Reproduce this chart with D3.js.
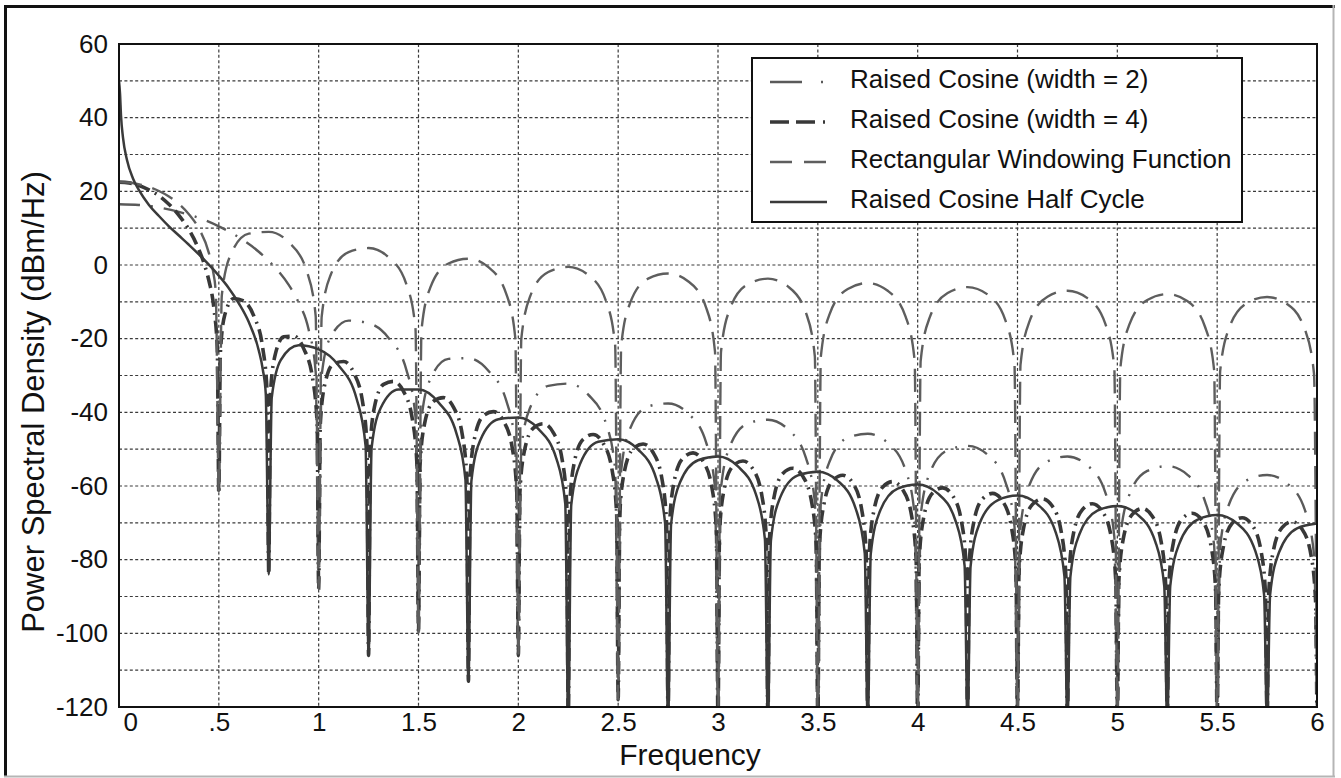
<!DOCTYPE html>
<html>
<head>
<meta charset="utf-8">
<script src="https://cdn.jsdelivr.net/npm/d3@7"></script>
<style>
  body { margin: 0; background: #fff; }
  svg { display: block; }
  text { font-family: "Liberation Sans", Arial, Helvetica, sans-serif; fill: #111; }
</style>
</head>
<body>
<svg id="chart" width="1341" height="778"></svg>
<script>
// ---------- data ----------
const xTickValues = [0, 0.5, 1, 1.5, 2, 2.5, 3, 3.5, 4, 4.5, 5, 5.5, 6];
const xTickLabels = ["0", ".5", "1", "1.5", "2", "2.5", "3", "3.5", "4", "4.5", "5", "5.5", "6"];
const yTickValues = [60, 40, 20, 0, -20, -40, -60, -80, -100, -120];
const yTickLabels = ["60", "40", "20", "0", "-20", "-40", "-60", "-80", "-100", "-120"];
const yGridValues = [50, 40, 30, 20, 10, 0, -10, -20, -30, -40, -50, -60, -70, -80, -90, -100, -110];
const xGridValues = [0.5, 1, 1.5, 2, 2.5, 3, 3.5, 4, 4.5, 5, 5.5];
const seriesNames = ["Raised Cosine (width = 2)", "Raised Cosine (width = 4)", "Rectangular Windowing Function", "Raised Cosine Half Cycle"];
const xTitle = "Frequency";
const yTitle = "Power Spectral Density (dBm/Hz)";

// [frequency, dBm/Hz]
const rcWidth2 = [
  [0,16.5],[0.1,16.3],[0.2,15.6],[0.3,14.4],[0.4,12.8],[0.5,10.5],[0.6,7.5],[0.7,3.6],[0.75,1.1],[0.8,-1.8],[0.85,-5.4],[0.9,-10.2],[0.95,-17.6],[0.985,-29.0],
  [1.0,-88],
  [1.015,-30.0],[1.06,-19.5],[1.15,-15.1],[1.25,-15.8],[1.35,-19.8],[1.44,-28.6],[1.485,-41.3],
  [1.5,-100],
  [1.515,-41.8],[1.56,-30.9],[1.65,-25.5],[1.75,-25.3],[1.85,-28.7],[1.94,-36.9],[1.985,-49.3],
  [2.0,-106],
  [2.015,-49.9],[2.06,-38.6],[2.15,-32.8],[2.25,-32.2],[2.35,-35.2],[2.44,-43.2],[2.485,-55.5],
  [2.5,-118],
  [2.515,-55.8],[2.56,-44.4],[2.65,-38.4],[2.75,-37.6],[2.85,-40.3],[2.94,-48.1],[2.985,-60.4],
  [3.0,-125],
  [3.015,-60.6],[3.06,-49.2],[3.15,-43.0],[3.25,-42.0],[3.35,-44.6],[3.44,-52.3],[3.485,-64.4],
  [3.5,-125],
  [3.515,-64.6],[3.56,-53.2],[3.65,-46.9],[3.75,-45.8],[3.85,-48.3],[3.94,-55.8],[3.985,-68.0],
  [4.0,-125],
  [4.015,-68.1],[4.06,-56.6],[4.15,-50.3],[4.25,-49.1],[4.35,-51.5],[4.44,-59.0],[4.485,-71.0],
  [4.5,-125],
  [4.515,-71.2],[4.56,-59.7],[4.65,-53.3],[4.75,-52.0],[4.85,-54.4],[4.94,-61.8],[4.985,-73.8],
  [5.0,-125],
  [5.015,-74.0],[5.06,-62.4],[5.15,-55.9],[5.25,-54.6],[5.35,-56.9],[5.44,-64.3],[5.485,-76.3],
  [5.5,-125],
  [5.515,-76.5],[5.56,-64.9],[5.65,-58.4],[5.75,-57.0],[5.85,-59.3],[5.94,-66.6],[5.985,-78.6],
  [6.0,-125]
];

const rcWidth4 = [
  [0,22.5],[0.05,22.3],[0.1,21.6],[0.15,20.4],[0.2,18.8],[0.25,16.5],[0.3,13.5],[0.35,9.6],[0.4,4.2],[0.425,0.6],[0.45,-4.2],[0.475,-11.6],[0.4925,-23.0],
  [0.5,-62],
  [0.5075,-24.0],[0.53,-13.5],[0.575,-9.1],[0.625,-9.8],[0.675,-13.8],[0.72,-22.6],[0.7425,-35.3],
  [0.75,-84],
  [0.7575,-35.8],[0.78,-24.9],[0.825,-19.5],[0.875,-19.3],[0.925,-22.7],[0.97,-30.9],[0.9925,-43.3],
  [1.0,-88],
  [1.0075,-43.9],[1.03,-32.6],[1.075,-26.8],[1.125,-26.2],[1.175,-29.2],[1.22,-37.2],[1.2425,-49.5],
  [1.25,-106],
  [1.2575,-49.8],[1.28,-38.4],[1.325,-32.4],[1.375,-31.6],[1.425,-34.3],[1.47,-42.1],[1.4925,-54.4],
  [1.5,-100],
  [1.5075,-54.6],[1.53,-43.2],[1.575,-37.0],[1.625,-36.0],[1.675,-38.6],[1.72,-46.3],[1.7425,-58.4],
  [1.75,-113],
  [1.7575,-58.6],[1.78,-47.2],[1.825,-40.9],[1.875,-39.8],[1.925,-42.3],[1.97,-49.8],[1.9925,-62.0],
  [2.0,-106],
  [2.0075,-62.1],[2.03,-50.6],[2.075,-44.3],[2.125,-43.1],[2.175,-45.5],[2.22,-53.0],[2.2425,-65.0],
  [2.25,-125],
  [2.2575,-65.2],[2.28,-53.7],[2.325,-47.3],[2.375,-46.0],[2.425,-48.4],[2.47,-55.8],[2.4925,-67.8],
  [2.5,-118],
  [2.5075,-68.0],[2.53,-56.4],[2.575,-49.9],[2.625,-48.6],[2.675,-50.9],[2.72,-58.3],[2.7425,-70.3],
  [2.75,-125],
  [2.7575,-70.5],[2.78,-58.9],[2.825,-52.4],[2.875,-51.0],[2.925,-53.3],[2.97,-60.6],[2.9925,-72.6],
  [3.0,-125],
  [3.0075,-72.7],[3.03,-61.1],[3.075,-54.6],[3.125,-53.2],[3.175,-55.4],[3.22,-62.7],[3.2425,-74.7],
  [3.25,-125],
  [3.2575,-74.8],[3.28,-63.2],[3.325,-56.6],[3.375,-55.2],[3.425,-57.4],[3.47,-64.7],[3.4925,-76.6],
  [3.5,-125],
  [3.5075,-76.7],[3.53,-65.1],[3.575,-58.5],[3.625,-57.1],[3.675,-59.2],[3.72,-66.5],[3.7425,-78.4],
  [3.75,-125],
  [3.7575,-78.5],[3.78,-66.9],[3.825,-60.3],[3.875,-58.8],[3.925,-61.0],[3.97,-68.2],[3.9925,-80.1],
  [4.0,-125],
  [4.0075,-80.2],[4.03,-68.6],[4.075,-61.9],[4.125,-60.5],[4.175,-62.6],[4.22,-69.8],[4.2425,-81.7],
  [4.25,-125],
  [4.2575,-81.8],[4.28,-70.1],[4.325,-63.5],[4.375,-62.0],[4.425,-64.1],[4.47,-71.3],[4.4925,-83.2],
  [4.5,-125],
  [4.5075,-83.3],[4.53,-71.6],[4.575,-65.0],[4.625,-63.5],[4.675,-65.5],[4.72,-72.7],[4.7425,-84.6],
  [4.75,-125],
  [4.7575,-84.7],[4.78,-73.0],[4.825,-66.4],[4.875,-64.8],[4.925,-66.9],[4.97,-74.0],[4.9925,-86.0],
  [5.0,-125],
  [5.0075,-86.0],[5.03,-74.3],[5.075,-67.7],[5.125,-66.1],[5.175,-68.2],[5.22,-75.3],[5.2425,-87.2],
  [5.25,-125],
  [5.2575,-87.3],[5.28,-75.6],[5.325,-68.9],[5.375,-67.4],[5.425,-69.4],[5.47,-76.5],[5.4925,-88.4],
  [5.5,-125],
  [5.5075,-88.5],[5.53,-76.8],[5.575,-70.1],[5.625,-68.6],[5.675,-70.6],[5.72,-77.7],[5.7425,-89.6],
  [5.75,-125],
  [5.7575,-89.7],[5.78,-78.0],[5.825,-71.3],[5.875,-69.7],[5.925,-71.7],[5.97,-78.8],[5.9925,-90.7],
  [6.0,-125]
];

const rectWindow = [
  [0,22.5],[0.05,22.4],[0.1,21.9],[0.15,21.2],[0.2,20.1],[0.25,18.6],[0.3,16.6],[0.35,13.8],[0.4,9.9],[0.45,3.3],[0.47,-1.4],[0.485,-7.7],
  [0.5,-62],
  [0.515,-8.2],[0.56,2.9],[0.65,8.5],[0.75,9.0],[0.85,6.2],[0.94,-1.6],[0.985,-13.8],
  [1.0,-88],
  [1.015,-14.1],[1.06,-2.7],[1.15,3.5],[1.25,4.6],[1.35,2.1],[1.44,-5.3],[1.485,-17.4],
  [1.5,-100],
  [1.515,-17.6],[1.56,-6.0],[1.65,0.4],[1.75,1.7],[1.85,-0.6],[1.94,-7.9],[1.985,-19.9],
  [2.0,-106],
  [2.015,-20.0],[2.06,-8.4],[2.15,-1.9],[2.25,-0.5],[2.35,-2.7],[2.44,-9.9],[2.485,-21.9],
  [2.5,-118],
  [2.515,-22.0],[2.56,-10.3],[2.65,-3.7],[2.75,-2.3],[2.85,-4.4],[2.94,-11.5],[2.985,-23.5],
  [3.0,-125],
  [3.015,-23.6],[3.06,-11.9],[3.15,-5.2],[3.25,-3.7],[3.35,-5.8],[3.44,-12.9],[3.485,-24.8],
  [3.5,-125],
  [3.515,-24.9],[3.56,-13.2],[3.65,-6.5],[3.75,-4.9],[3.85,-7.0],[3.94,-14.1],[3.985,-26.0],
  [4.0,-125],
  [4.015,-26.0],[4.06,-14.3],[4.15,-7.6],[4.25,-6.0],[4.35,-8.0],[4.44,-15.1],[4.485,-27.0],
  [4.5,-125],
  [4.515,-27.1],[4.56,-15.3],[4.65,-8.6],[4.75,-7.0],[4.85,-9.0],[4.94,-16.0],[4.985,-27.9],
  [5.0,-125],
  [5.015,-28.0],[5.06,-16.2],[5.15,-9.5],[5.25,-7.9],[5.35,-9.8],[5.44,-16.9],[5.485,-28.7],
  [5.5,-125],
  [5.515,-28.8],[5.56,-17.1],[5.65,-10.3],[5.75,-8.7],[5.85,-10.6],[5.94,-17.6],[5.985,-29.5],
  [6.0,-125]
];

const rcHalfCycle = [
  [0,50],[0.005,46.6],[0.01,40.6],[0.02,34.6],[0.04,28.5],[0.07,23.5],[0.1,20.3],[0.15,16.3],[0.2,13.3],[0.25,10.5],[0.3,8.0],[0.35,5.5],[0.4,2.9],[0.45,0.1],[0.5,-2.9],[0.55,-6.3],[0.6,-10.4],[0.65,-15.5],[0.7,-23.2],[0.72,-28.3],[0.735,-34.9],
  [0.75,-84],
  [0.765,-36.0],[0.81,-25.8],[0.9,-21.8],[1.0,-22.9],[1.1,-27.3],[1.19,-36.3],[1.235,-49.1],
  [1.25,-106],
  [1.265,-49.8],[1.31,-38.9],[1.4,-33.8],[1.5,-33.8],[1.6,-37.3],[1.69,-45.7],[1.735,-58.2],
  [1.75,-113],
  [1.765,-58.6],[1.81,-47.5],[1.9,-41.9],[2.0,-41.4],[2.1,-44.5],[2.19,-52.5],[2.235,-64.8],
  [2.25,-125],
  [2.265,-65.2],[2.31,-53.9],[2.4,-48.0],[2.5,-47.3],[2.6,-50.1],[2.69,-57.9],[2.735,-70.1],
  [2.75,-125],
  [2.765,-70.4],[2.81,-59.0],[2.9,-53.0],[3.0,-52.0],[3.1,-54.7],[3.19,-62.3],[3.235,-74.5],
  [3.25,-125],
  [3.265,-74.8],[3.31,-63.3],[3.4,-57.1],[3.5,-56.1],[3.6,-58.6],[3.69,-66.2],[3.735,-78.3],
  [3.75,-125],
  [3.765,-78.5],[3.81,-67.0],[3.9,-60.7],[4.0,-59.6],[4.1,-62.0],[4.19,-69.5],[4.235,-81.6],
  [4.25,-125],
  [4.265,-81.8],[4.31,-70.2],[4.4,-63.9],[4.5,-62.6],[4.6,-65.0],[4.69,-72.4],[4.735,-84.5],
  [4.75,-125],
  [4.765,-84.6],[4.81,-73.1],[4.9,-66.7],[5.0,-65.4],[5.1,-67.7],[5.19,-75.1],[5.235,-87.1],
  [5.25,-125],
  [5.265,-87.2],[5.31,-75.7],[5.4,-69.2],[5.5,-67.9],[5.6,-70.2],[5.69,-77.5],[5.735,-89.5],
  [5.75,-125],
  [5.765,-89.6],[5.81,-78.0],[5.9,-71.5],[6.0,-70.2]
];

// ---------- styles & layout ----------
const seriesData = [rcWidth2, rcWidth4, rectWindow, rcHalfCycle];
const seriesStyles = [
  { stroke: "#5a5a5a", width: 2.4, dash: "21 11 2 11", legendDash: "32 19 2 40" },
  { stroke: "#383838", width: 3.6, dash: "13 6 13 6 2 6", legendDash: "19 7 19 8 2 40" },
  { stroke: "#5e5e5e", width: 2.4, dash: "23 11", legendDash: "22 12" },
  { stroke: "#3a3a3a", width: 2.5, dash: null, legendDash: null }
];

const W = 1341, H = 778;
const plot = { left: 119, top: 44, right: 1317, bottom: 707 };

const svg = d3.select("#chart");
svg.append("rect").attr("width", W).attr("height", H).attr("fill", "#fff");

// outer frame
svg.append("line").attr("x1", 5.5).attr("x2", 5.5).attr("y1", 5).attr("y2", 777).attr("stroke", "#111").attr("stroke-width", 3);
svg.append("line").attr("x1", 4).attr("x2", 1335).attr("y1", 6.5).attr("y2", 6.5).attr("stroke", "#111").attr("stroke-width", 3);
svg.append("line").attr("x1", 1333.5).attr("x2", 1333.5).attr("y1", 5).attr("y2", 777).attr("stroke", "#b5b5b5").attr("stroke-width", 2);
svg.append("line").attr("x1", 4).attr("x2", 1335).attr("y1", 776.5).attr("y2", 776.5).attr("stroke", "#b5b5b5").attr("stroke-width", 2);

const x = d3.scaleLinear().domain([0, 6]).range([plot.left, plot.right]);
const y = d3.scaleLinear().domain([-120, 60]).range([plot.bottom, plot.top]);

// clip
svg.append("defs").append("clipPath").attr("id", "plotClip")
  .append("rect").attr("x", plot.left).attr("y", plot.top)
  .attr("width", plot.right - plot.left).attr("height", plot.bottom - plot.top);

// grid
const grid = svg.append("g").attr("stroke", "#3a3a3a").attr("stroke-width", 1.2).attr("stroke-dasharray", "3 2.4");
grid.selectAll("line.h").data(yGridValues).join("line").attr("class", "h")
  .attr("x1", plot.left).attr("x2", plot.right).attr("y1", d => y(d)).attr("y2", d => y(d));
grid.selectAll("line.v").data(xGridValues).join("line").attr("class", "v")
  .attr("y1", plot.top).attr("y2", plot.bottom).attr("x1", d => x(d)).attr("x2", d => x(d));

// series
const line = d3.line().x(d => x(d[0])).y(d => y(d[1])).curve(d3.curveMonotoneX);
const curves = svg.append("g").attr("clip-path", "url(#plotClip)");
seriesData.forEach((data, i) => {
  const st = seriesStyles[i];
  curves.append("path").datum(data)
    .attr("d", line)
    .attr("fill", "none")
    .attr("stroke", st.stroke)
    .attr("stroke-width", st.width)
    .attr("stroke-linejoin", "round")
    .attr("stroke-dasharray", st.dash);
});

// plot box
svg.append("rect").attr("x", plot.left).attr("y", plot.top)
  .attr("width", plot.right - plot.left).attr("height", plot.bottom - plot.top)
  .attr("fill", "none").attr("stroke", "#111").attr("stroke-width", 2);

// axes (labels only)
const yAxis = d3.axisLeft(y).tickValues(yTickValues).tickSize(0).tickPadding(11)
  .tickFormat((d, i) => yTickLabels[i]);
const gy = svg.append("g").attr("transform", `translate(${plot.left},0)`).call(yAxis);
gy.select(".domain").remove();
gy.selectAll("text").attr("font-size", 26).attr("font-family", "Liberation Sans, Arial, sans-serif").attr("fill", "#111");

const xAxis = d3.axisBottom(x).tickValues(xTickValues).tickSize(0).tickPadding(6)
  .tickFormat((d, i) => xTickLabels[i]);
const gx = svg.append("g").attr("transform", `translate(0,${plot.bottom})`).call(xAxis);
gx.select(".domain").remove();
gx.selectAll("text").attr("font-size", 26).attr("font-family", "Liberation Sans, Arial, sans-serif").attr("fill", "#111");
gx.selectAll("text").filter((d, i) => i === 0).attr("text-anchor", "start").attr("x", 4);

// titles
svg.append("text").attr("x", 690).attr("y", 765).attr("text-anchor", "middle")
  .attr("font-size", 30).text(xTitle);
svg.append("text").attr("transform", "translate(44,402) rotate(-90)").attr("text-anchor", "middle")
  .attr("font-size", 31).text(yTitle);

// legend
const legend = svg.append("g");
legend.append("rect").attr("x", 752).attr("y", 58).attr("width", 490).attr("height", 164)
  .attr("fill", "#fff").attr("stroke", "#111").attr("stroke-width", 2);
const rows = legend.selectAll("g.row").data(seriesNames).join("g").attr("class", "row")
  .attr("transform", (d, i) => `translate(0,${79 + 40 * i})`);
rows.append("line").attr("x1", 770).attr("x2", 827).attr("y1", 3).attr("y2", 3)
  .attr("stroke", (d, i) => seriesStyles[i].stroke)
  .attr("stroke-width", (d, i) => seriesStyles[i].width)
  .attr("stroke-dasharray", (d, i) => seriesStyles[i].legendDash);
rows.append("text").attr("x", 850).attr("y", 9.3).attr("font-size", 26).text(d => d);
</script>
</body>
</html>
